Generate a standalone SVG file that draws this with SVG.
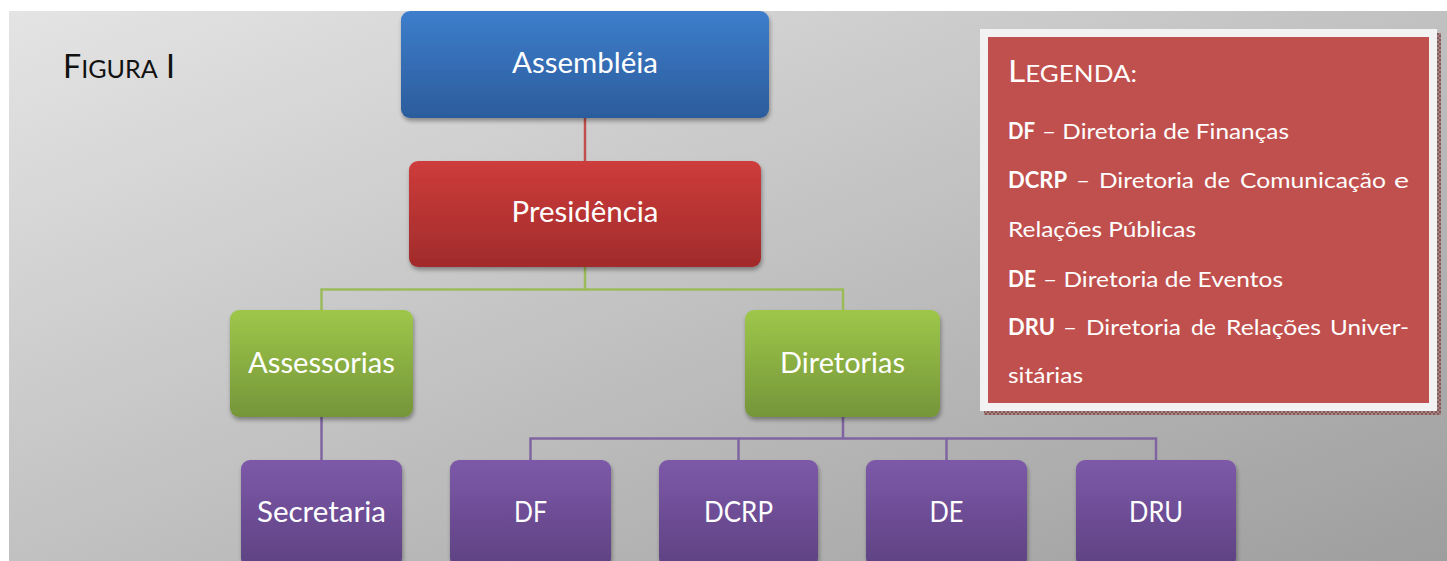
<svg xmlns="http://www.w3.org/2000/svg" width="1447" height="561" viewBox="0 0 1447 561">
  <defs>
    <linearGradient id="bg" x1="0" y1="0" x2="1" y2="1">
      <stop offset="0" stop-color="#e4e4e4"/>
      <stop offset="1" stop-color="#9e9e9e"/>
    </linearGradient>
    <linearGradient id="gBlue" x1="0" y1="0" x2="0" y2="1">
      <stop offset="0" stop-color="#3d7ecc"/>
      <stop offset="1" stop-color="#2c5c9c"/>
    </linearGradient>
    <linearGradient id="gRed" x1="0" y1="0" x2="0" y2="1">
      <stop offset="0" stop-color="#ce3c3b"/>
      <stop offset="1" stop-color="#a12b2b"/>
    </linearGradient>
    <linearGradient id="gGreen" x1="0" y1="0" x2="0" y2="1">
      <stop offset="0" stop-color="#9ec74a"/>
      <stop offset="1" stop-color="#759539"/>
    </linearGradient>
    <linearGradient id="gPurple" x1="0" y1="0" x2="0" y2="1">
      <stop offset="0" stop-color="#7d59a9"/>
      <stop offset="1" stop-color="#5e4282"/>
    </linearGradient>
    <filter id="sh" x="-10%" y="-10%" width="125%" height="130%">
      <feDropShadow dx="1" dy="3" stdDeviation="2" flood-color="#000" flood-opacity="0.35"/>
    </filter>
    <pattern id="hatch" width="4" height="4" patternUnits="userSpaceOnUse">
      <rect width="4" height="4" fill="#a88484"/>
      <path d="M0 0L4 4M4 0L0 4" stroke="#7a4c4c" stroke-width="0.8"/>
    </pattern>
  </defs>
  <style>
    .lbl { font-family: Lato, "Liberation Sans", sans-serif; font-size: 28px; fill: #ffffff; text-anchor: middle; }
    .leg { font-family: Lato, "Liberation Sans", sans-serif; font-size: 22px; fill: #ffffff; }
    .legb { font-family: Lato, "Liberation Sans", sans-serif; font-size: 22px; fill: #ffffff; font-weight: bold; }
    .conn { fill: none; stroke-width: 2.5; }
  </style>

  <rect x="0" y="0" width="1447" height="561" fill="#ffffff"/>
  <rect x="9" y="11" width="1438" height="550" fill="url(#bg)"/>

  <text x="63" y="78" font-family="Lato, 'Liberation Sans', sans-serif" fill="#111111" textLength="112" lengthAdjust="spacingAndGlyphs"><tspan font-size="32">F</tspan><tspan font-size="25">IGURA</tspan><tspan font-size="32"> I</tspan></text>

  <g id="connectors">
    <path class="conn" stroke="#c0504d" d="M585 118V161"/>
    <path class="conn" stroke="#9bbb59" d="M585 267V289.5M321.5 310V289.5H843V310"/>
    <path class="conn" stroke="#8064a2" d="M321.5 417V460"/>
    <path class="conn" stroke="#8064a2" d="M843 417V438.5M530.5 460V438.5H1156V460M738.5 438.5V460M946.5 438.5V460"/>
  </g>

  <g id="node-assembleia">
    <rect x="401" y="11" width="368" height="107" rx="9" fill="url(#gBlue)" filter="url(#sh)"/>
    <text class="lbl" x="585" y="73" textLength="146" lengthAdjust="spacingAndGlyphs">Assembléia</text>
  </g>
  <g id="node-presidencia">
    <rect x="409" y="161" width="352" height="106" rx="9" fill="url(#gRed)" filter="url(#sh)"/>
    <text class="lbl" x="585" y="222" textLength="147" lengthAdjust="spacingAndGlyphs">Presidência</text>
  </g>
  <g id="node-assessorias">
    <rect x="230" y="310" width="183" height="107" rx="9" fill="url(#gGreen)" filter="url(#sh)"/>
    <text class="lbl" x="321.5" y="373" textLength="147" lengthAdjust="spacingAndGlyphs">Assessorias</text>
  </g>
  <g id="node-diretorias">
    <rect x="745" y="310" width="195" height="107" rx="9" fill="url(#gGreen)" filter="url(#sh)"/>
    <text class="lbl" x="842.5" y="373" textLength="125" lengthAdjust="spacingAndGlyphs">Diretorias</text>
  </g>
  <g id="node-secretaria">
    <rect x="241" y="460" width="161" height="107" rx="9" fill="url(#gPurple)" filter="url(#sh)"/>
    <text class="lbl" x="321.5" y="522" textLength="129" lengthAdjust="spacingAndGlyphs">Secretaria</text>
  </g>
  <g id="node-df">
    <rect x="450" y="460" width="161" height="107" rx="9" fill="url(#gPurple)" filter="url(#sh)"/>
    <text class="lbl" x="530.5" y="522" textLength="33" lengthAdjust="spacingAndGlyphs">DF</text>
  </g>
  <g id="node-dcrp">
    <rect x="659" y="460" width="159" height="107" rx="9" fill="url(#gPurple)" filter="url(#sh)"/>
    <text class="lbl" x="738.5" y="522" textLength="69" lengthAdjust="spacingAndGlyphs">DCRP</text>
  </g>
  <g id="node-de">
    <rect x="866" y="460" width="161" height="107" rx="9" fill="url(#gPurple)" filter="url(#sh)"/>
    <text class="lbl" x="946.5" y="522" textLength="34" lengthAdjust="spacingAndGlyphs">DE</text>
  </g>
  <g id="node-dru">
    <rect x="1076" y="460" width="160" height="107" rx="9" fill="url(#gPurple)" filter="url(#sh)"/>
    <text class="lbl" x="1156" y="522" textLength="54" lengthAdjust="spacingAndGlyphs">DRU</text>
  </g>

  <g id="legend">
    <rect x="984" y="33" width="457" height="382" fill="url(#hatch)"/>
    <rect x="980" y="29" width="457" height="382" fill="#f2f2f2"/>
    <rect x="988" y="37" width="441" height="366" fill="#c0504d"/>
    <text x="1008" y="82" font-family="Lato, 'Liberation Sans', sans-serif" fill="#ffffff" textLength="129" lengthAdjust="spacingAndGlyphs"><tspan font-size="31">L</tspan><tspan font-size="24">EGENDA:</tspan></text>

    <text class="legb" x="1008" y="139" textLength="27" lengthAdjust="spacingAndGlyphs">DF</text>
    <text class="leg" x="1042" y="139" textLength="247" lengthAdjust="spacingAndGlyphs">– Diretoria de Finanças</text>

    <text class="legb" x="1008" y="188" textLength="59" lengthAdjust="spacingAndGlyphs">DCRP</text>
    <text class="leg" x="1076" y="188" textLength="14" lengthAdjust="spacingAndGlyphs">–</text>
    <text class="leg" x="1099" y="188" textLength="95" lengthAdjust="spacingAndGlyphs">Diretoria</text>
    <text class="leg" x="1204" y="188" textLength="26" lengthAdjust="spacingAndGlyphs">de</text>
    <text class="leg" x="1240" y="188" textLength="146" lengthAdjust="spacingAndGlyphs">Comunicação</text>
    <text class="leg" x="1394" y="188" textLength="15" lengthAdjust="spacingAndGlyphs">e</text>

    <text class="leg" x="1008" y="237" textLength="188" lengthAdjust="spacingAndGlyphs">Relações Públicas</text>

    <text class="legb" x="1008" y="287" textLength="28" lengthAdjust="spacingAndGlyphs">DE</text>
    <text class="leg" x="1043" y="287" textLength="240" lengthAdjust="spacingAndGlyphs">– Diretoria de Eventos</text>

    <text class="legb" x="1008" y="335" textLength="47" lengthAdjust="spacingAndGlyphs">DRU</text>
    <text class="leg" x="1063" y="335" textLength="14" lengthAdjust="spacingAndGlyphs">–</text>
    <text class="leg" x="1086" y="335" textLength="95" lengthAdjust="spacingAndGlyphs">Diretoria</text>
    <text class="leg" x="1191" y="335" textLength="25" lengthAdjust="spacingAndGlyphs">de</text>
    <text class="leg" x="1226" y="335" textLength="95" lengthAdjust="spacingAndGlyphs">Relações</text>
    <text class="leg" x="1330" y="335" textLength="79" lengthAdjust="spacingAndGlyphs">Univer-</text>

    <text class="leg" x="1008" y="383" textLength="75" lengthAdjust="spacingAndGlyphs">sitárias</text>
  </g>
</svg>
